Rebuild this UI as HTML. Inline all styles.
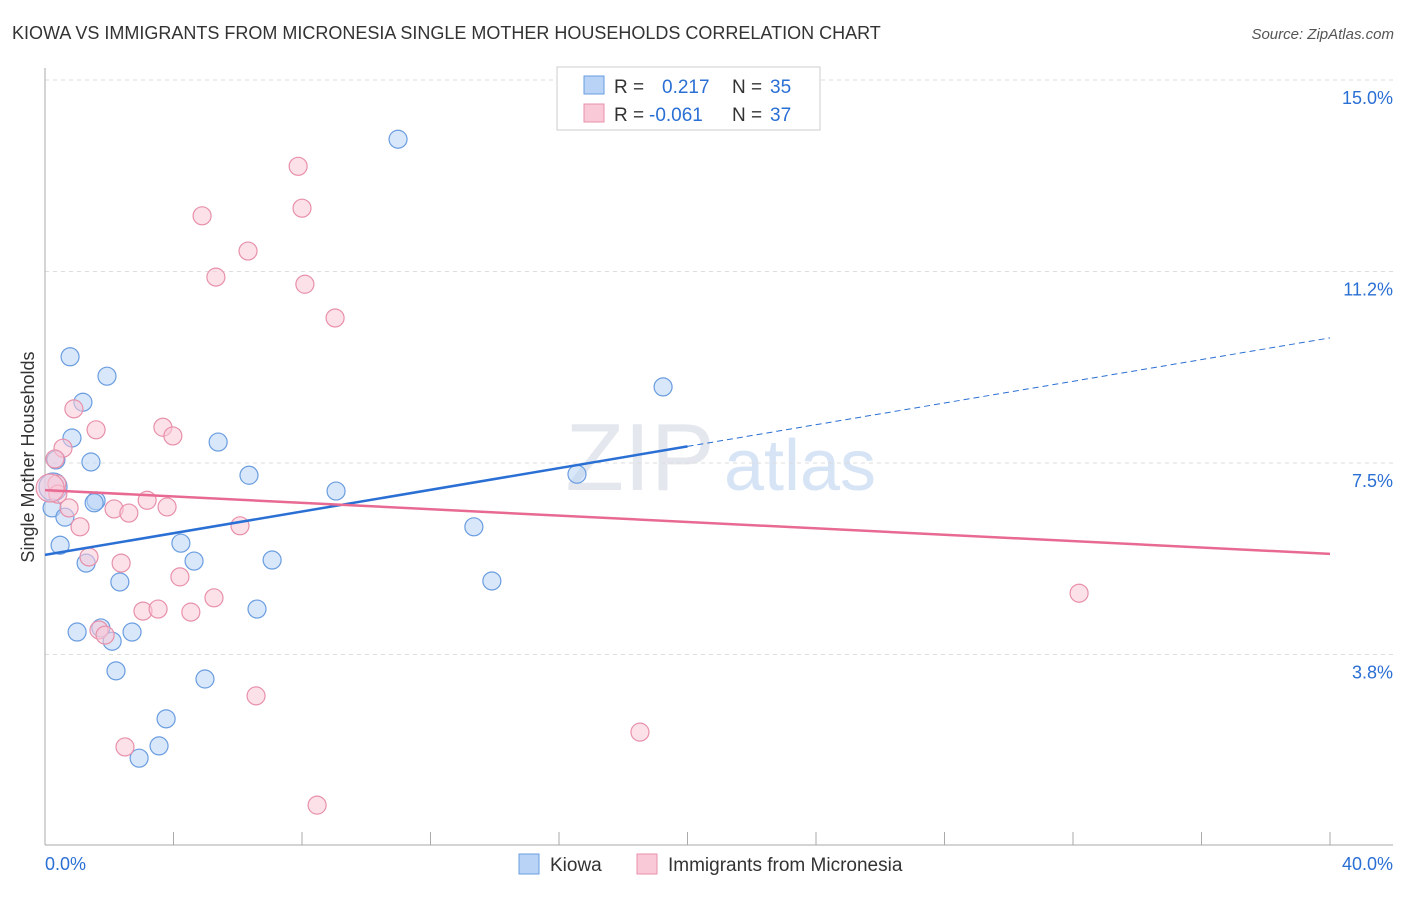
<!DOCTYPE html>
<html><head><meta charset="utf-8"><style>
body{margin:0;background:#fff;font-family:"Liberation Sans",sans-serif;}
svg text{font-family:"Liberation Sans",sans-serif;}
</style></head><body>
<svg width="1406" height="892" xmlns="http://www.w3.org/2000/svg">
<text x="12" y="39" font-size="18" fill="#333">KIOWA VS IMMIGRANTS FROM MICRONESIA SINGLE MOTHER HOUSEHOLDS CORRELATION CHART</text>
<text x="1394" y="39" font-size="15" fill="#555" text-anchor="end" font-style="italic">Source: ZipAtlas.com</text>
<text x="640" y="490" font-size="96" fill="#e4e8ee" font-family="Liberation Serif" text-anchor="middle">ZIP</text>
<text x="800" y="490" font-size="72" fill="#d6e4f5" text-anchor="middle">atlas</text>
<g id="grid"></g>
<g id="axes"></g>
<g id="marks"></g>
<text transform="translate(34,457) rotate(-90)" font-size="18" fill="#333" text-anchor="middle">Single Mother Households</text>
<g>
<rect x="557" y="67" width="263" height="63" fill="#fff" stroke="#ccc"/>
<rect x="584" y="76" width="20" height="18" fill="#b8d3f5" stroke="#6a9de0"/>
<text x="614" y="93" font-size="19" fill="#333">R = </text><text x="662" y="93" font-size="19" fill="#2a6fd4">0.217</text>
<text x="732" y="93" font-size="19" fill="#333">N = </text><text x="770" y="93" font-size="19" fill="#2a6fd4">35</text>
<rect x="584" y="104" width="20" height="18" fill="#f9c9d7" stroke="#e890aa"/>
<text x="614" y="121" font-size="19" fill="#333">R = </text><text x="649" y="121" font-size="19" fill="#2a6fd4">-0.061</text>
<text x="732" y="121" font-size="19" fill="#333">N = </text><text x="770" y="121" font-size="19" fill="#2a6fd4">37</text>
</g>
<g>
<rect x="519" y="854" width="20" height="20" fill="#b8d3f5" stroke="#6a9de0"/>
<text x="550" y="871" font-size="19" fill="#333">Kiowa</text>
<rect x="637" y="854" width="20" height="20" fill="#f9c9d7" stroke="#e890aa"/>
<text x="668" y="871" font-size="19" fill="#333">Immigrants from Micronesia</text>
</g>
</svg>
<script>
const yTicks=[3.75,7.5,11.25,15];
const yTickLabels=["3.8%","7.5%","11.2%","15.0%"];
const xTicks=[0,4,8,12,16,20,24,28,32,36,40];
const blueX=[10.99,0.78,1.93,1.18,19.24,0.84,5.39,0.34,1.43,6.35,16.56,9.06,0.25,1.59,1.53,0.22,0.62,13.35,0.47,4.23,4.64,1.28,7.07,2.33,13.91,6.60,1.00,1.74,2.71,2.09,2.21,4.98,3.77,3.55,2.93];
const blueY=[13.84,9.58,9.20,8.69,8.99,7.99,7.91,7.56,7.52,7.26,7.28,6.95,7.03,6.76,6.72,6.62,6.44,6.25,5.89,5.93,5.58,5.54,5.60,5.17,5.19,4.64,4.19,4.27,4.19,4.01,3.43,3.27,2.49,1.96,1.72];
const pinkX=[7.88,4.89,8.00,6.32,5.32,8.09,9.03,0.90,1.59,3.67,3.98,0.56,0.31,0.37,0.40,3.18,0.75,2.15,2.61,3.80,1.09,6.07,1.37,2.37,4.20,5.26,3.05,3.52,4.54,1.68,1.87,6.57,2.49,18.52,8.47,32.19,0.16];
const pinkY=[13.31,12.34,12.49,11.65,11.14,11.00,10.34,8.56,8.15,8.20,8.03,7.79,7.58,7.09,6.89,6.77,6.62,6.60,6.52,6.64,6.25,6.27,5.66,5.54,5.27,4.86,4.60,4.64,4.58,4.23,4.13,2.94,1.94,2.23,0.80,4.95,7.01];
const blueTrend=[5.70,9.95];
const pinkTrend=[6.97,5.72];
const blueSolidEnd=20;
const NS="http://www.w3.org/2000/svg";
const xs=v=>45+v*1285/40, ys=v=>846-v*766/15;
function mk(tag,attrs,parent){const e=document.createElementNS(NS,tag);for(const k in attrs)e.setAttribute(k,attrs[k]);document.getElementById(parent).appendChild(e);return e;}
yTicks.forEach((t,i)=>{
 const l=mk('line',{x1:45,x2:1393,y1:ys(t),y2:ys(t),stroke:'#ddd','stroke-dasharray':'4,4'},'grid');
 
 
 const tx=mk('text',{x:1393,y:ys(t)+24,'font-size':18,fill:'#2a6fd4','text-anchor':'end'},'grid');
 tx.textContent=yTickLabels[i];
 
 
});
let ax=mk('line',{x1:45,x2:1393,y1:845,y2:845,stroke:'#aaa'},'axes');


let ay=mk('line',{x1:45,x2:45,y1:68,y2:845,stroke:'#aaa'},'axes');


xTicks.forEach(t=>{const l=mk('line',{x1:xs(t),x2:xs(t),y1:832,y2:845,stroke:'#aaa'},'axes');
 
 });
let xl=mk('text',{x:45,y:870,'font-size':18,fill:'#2a6fd4'},'axes');xl.textContent='0.0%';


let xr=mk('text',{x:1393,y:870,'font-size':18,fill:'#2a6fd4','text-anchor':'end'},'axes');xr.textContent='40.0%';


function pts(X,Y,fill,stroke,name){X.forEach((x,i)=>{const big=(x<0.3&&Y[i]>6.9&&Y[i]<7.1);
 const c=mk('circle',{cx:xs(x),cy:ys(Y[i]),r:big?14:9,fill:fill,'fill-opacity':0.55,stroke:stroke,'stroke-width':1.2},'marks');
 
 });}
pts(blueX,blueY,'#b8d3f5','#6a9de0','kiowa-point');
pts(pinkX,pinkY,'#f9c9d7','#e890aa','micronesia-point');
const bAt=v=>blueTrend[0]+(blueTrend[1]-blueTrend[0])*v/40;
let b1=mk('line',{x1:xs(0),y1:ys(bAt(0)),x2:xs(blueSolidEnd),y2:ys(bAt(blueSolidEnd)),stroke:'#2a6fd4','stroke-width':2.5},'marks');


let b2=mk('line',{x1:xs(blueSolidEnd),y1:ys(bAt(blueSolidEnd)),x2:xs(40),y2:ys(bAt(40)),stroke:'#2a6fd4','stroke-width':1,'stroke-dasharray':'6,4'},'marks');


let p1=mk('line',{x1:xs(0),y1:ys(pinkTrend[0]),x2:xs(40),y2:ys(pinkTrend[1]),stroke:'#e86a93','stroke-width':2.5},'marks');


</script>
</body></html>
